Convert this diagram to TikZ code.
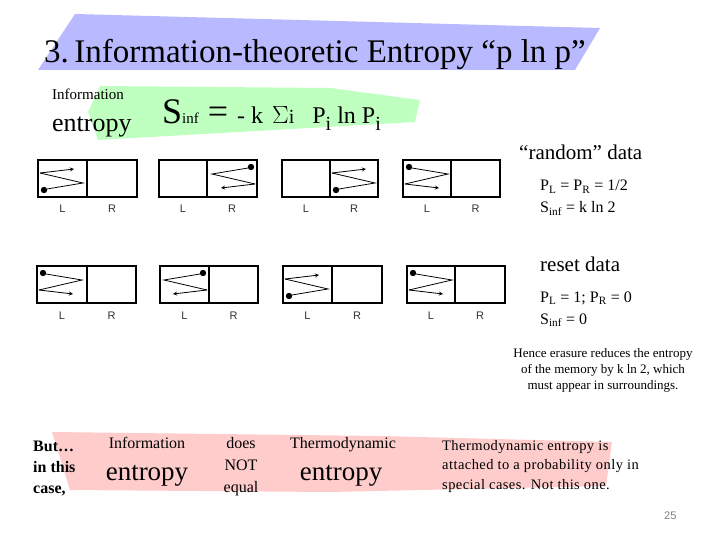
\documentclass[tikz,border=0pt]{standalone}
\usepackage{fontspec}
\setmainfont{Liberation Serif}
\setsansfont{Liberation Sans}
\begin{document}
\begin{tikzpicture}[x=1pt,y=-1pt,
  txt/.style={inner sep=0pt,anchor=base west},
  ctxt/.style={inner sep=0pt,anchor=base},
  cell/.style={draw=black,line width=1.1pt},
  zz/.style={line width=0.8pt},
  ball/.style={fill=black}]
\useasboundingbox (0,0) rectangle (720,540);
\fill[white] (0,0) rectangle (720,540);
% bands
\fill[blue!30!white,opacity=0.9] (75,14) -- (600,28) -- (575,70) -- (38,70) -- cycle;
\fill[green!25!white] (100,86) -- (330,88) -- (420,100) -- (415,122) -- (98,140) -- (88,112) -- cycle;
\fill[red!20!white] (52,432) -- (380,436) -- (612,442) -- (606,486) -- (330,492) -- (70,490) -- cycle;
% title and formula
\node[txt,font=\fontsize{33}{33}\selectfont] (title) at (44,63) {3.\,Information-theoretic Entropy “p ln p”};
\node[txt,font=\fontsize{15}{15}\selectfont] (info1) at (52,100) {Information};
\node[txt,font=\fontsize{26}{26}\selectfont] (ent1) at (52,132) {entropy};
\node[txt,font=\fontsize{36}{36}\selectfont] (form) at (162,124) {S{\fontsize{15}{15}\selectfont inf} = {\fontsize{24}{24}\selectfont - k} {\fontsize{30}{30}\selectfont$\Sigma$}{\fontsize{20}{20}\selectfont i}\ \ {\fontsize{24}{24}\selectfont P\raisebox{-7pt}{\fontsize{20}{20}\selectfont i} ln P\raisebox{-7pt}{\fontsize{20}{20}\selectfont i}}};
% right texts
\node[txt,font=\fontsize{21}{21}\selectfont] (rand) at (519,160) {“random” data};
\node[txt,font=\fontsize{16}{16}\selectfont] (p1) at (540,191) {P\textsubscript{L} = P\textsubscript{R} = 1/2};
\node[txt,font=\fontsize{16}{16}\selectfont] (s1) at (540,213) {S\textsubscript{inf} = k ln 2};
\node[txt,font=\fontsize{21}{21}\selectfont] (reset) at (540,271) {reset data};
\node[txt,font=\fontsize{16}{16}\selectfont] (p2) at (540,302) {P\textsubscript{L} = 1; P\textsubscript{R} = 0};
\node[txt,font=\fontsize{16}{16}\selectfont] (s2) at (540,324) {S\textsubscript{inf} = 0};
\node[ctxt,font=\fontsize{13}{13}\selectfont] (h1) at (603,357) {Hence erasure reduces the entropy};
\node[ctxt,font=\fontsize{13}{13}\selectfont] (h2) at (603,373) {of the memory by k ln 2, which};
\node[ctxt,font=\fontsize{13}{13}\selectfont] (h3) at (603,389) {must appear in surroundings.};
% bottom
\node[txt,font=\fontsize{16}{16}\selectfont\bfseries] (b1) at (33,451) {But…};
\node[txt,font=\fontsize{16}{16}\selectfont\bfseries] (b2) at (33,472) {in this};
\node[txt,font=\fontsize{16}{16}\selectfont\bfseries] (b3) at (33,493) {case,};
\node[ctxt,font=\fontsize{16}{16}\selectfont] (i2) at (147,448) {Information};
\node[ctxt,font=\fontsize{27}{27}\selectfont] (e2) at (147,480) {entropy};
\node[ctxt,font=\fontsize{16}{16}\selectfont] (d1) at (241,448) {does};
\node[ctxt,font=\fontsize{16}{16}\selectfont] (d2) at (241,470) {NOT};
\node[ctxt,font=\fontsize{16}{16}\selectfont] (d3) at (241,492) {equal};
\node[ctxt,font=\fontsize{16}{16}\selectfont] (t1) at (343,448) {Thermodynamic};
\node[ctxt,font=\fontsize{27}{27}\selectfont] (e3) at (341,480) {entropy};
\node[txt,font=\fontsize{14.5}{14.5}\selectfont\addfontfeature{LetterSpace=3}] (tx1) at (442,450) {Thermodynamic entropy is};
\node[txt,font=\fontsize{14.5}{14.5}\selectfont\addfontfeature{LetterSpace=3}] (tx2) at (442,469) {attached to a probability only in};
\node[txt,font=\fontsize{14.5}{14.5}\selectfont\addfontfeature{LetterSpace=3}] (tx3) at (442,489) {special cases. Not this one.};
\node[txt,font=\sffamily\fontsize{11}{11}\selectfont,text=gray] (pg) at (664,519) {25};
% memory cells
\newcommand{\mcell}[5]{%
  \draw[cell] (#1,#4) rectangle (#3,#5);
  \draw[cell] (#2,#4) -- (#2,#5);
  \node[ctxt,font=\sffamily\fontsize{11}{11}\selectfont,text=black!80] at ({(#1+#2)/2},{#5+16}) {L};
  \node[ctxt,font=\sffamily\fontsize{11}{11}\selectfont,text=black!80] at ({(#2+#3)/2},{#5+16}) {R};}
\newcommand{\zig}[4]{%
  \begin{scope}[shift={(#1,#2)},xscale=#3,yscale=#4]
   \fill[ball] (6,30) circle (3.2);
   \draw[zz] (9,29) -- (45,23) -- (2,13);
   \draw[zz,->,>=stealth] (2,13) -- (36,9);
  \end{scope}}
% row 1
\mcell{38}{87}{137}{160}{197}
\zig{38}{160}{1}{1}
\mcell{159}{207}{257}{160}{197}
\zig{257}{197}{-1}{-1}
\mcell{282}{330}{378}{160}{197}
\zig{330}{160}{1}{1}
\mcell{403}{451}{500}{160}{197}
\zig{403}{197}{1}{-1}
% row 2
\mcell{37}{87}{136}{266}{303}
\zig{37}{303}{1}{-1}
\mcell{160}{209}{258}{266}{303}
\zig{209}{303}{-1}{-1}
\mcell{283}{332}{382}{266}{303}
\zig{283}{266}{1}{1}
\mcell{407}{455}{505}{266}{303}
\zig{407}{303}{1}{-1}
\end{tikzpicture}
\end{document}
